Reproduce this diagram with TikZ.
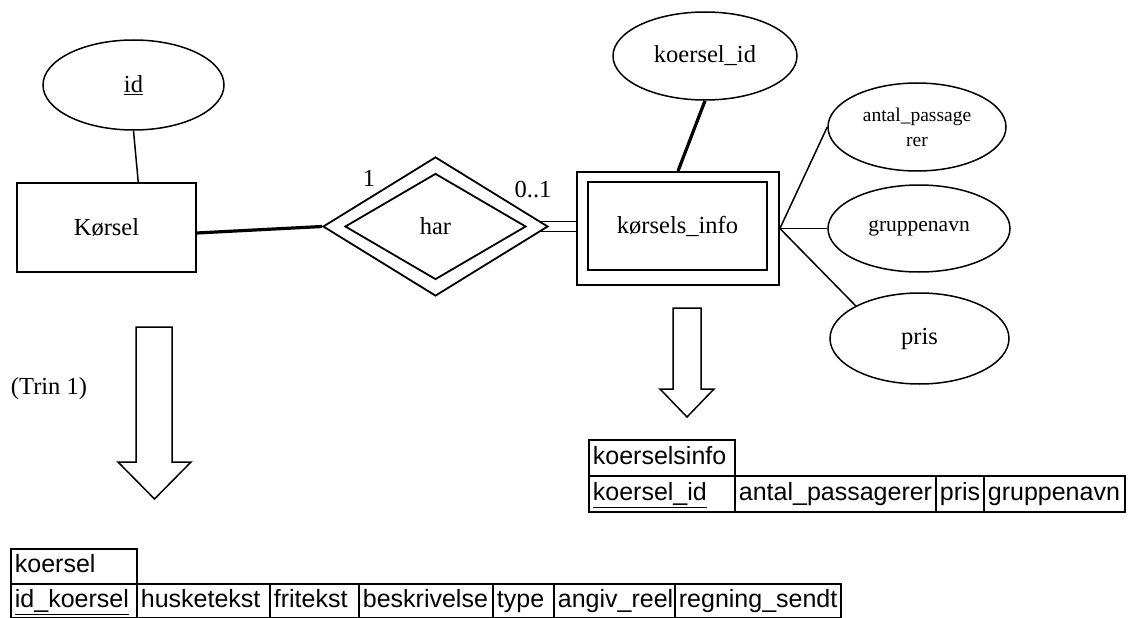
\documentclass[tikz,border=0pt]{standalone}
\usepackage{fontspec}
\setmainfont{Liberation Serif}
\newfontfamily\arialf{Liberation Sans}
\usetikzlibrary{shapes.geometric,calc}
\begin{document}
\begin{tikzpicture}[x=1pt,y=-1pt,line width=1.5pt,
  er/.style={font=\fontsize{24.5}{29}\selectfont},
  attr/.style={ellipse,draw,inner sep=0pt,er},
  ent/.style={rectangle,draw,inner sep=0pt,er},
  rel/.style={diamond,draw,inner sep=0pt,er},
  thickline/.style={line width=3.2pt},
  lbl/.style={inner sep=0pt,er},
  cell/.style={draw,rectangle,anchor=north west,line width=1.8pt,inner xsep=4pt,inner ysep=0pt,
    text height=18pt,text depth=5pt,
    minimum height=35pt,align=left,font=\arialf\fontsize{25}{28}\selectfont},
  blockarrow/.style={draw,line width=1.5pt,fill=white}
]
\useasboundingbox (0,0) rectangle (1128,618);

% --- ER part
\node[attr,minimum width=181pt,minimum height=90pt] (id) at (133.5,85) {\underline{id}};
\node[ent,minimum width=179pt,minimum height=89pt] (korsel) at (106.5,227.5) {Kørsel};
\node[rel,minimum width=225pt,minimum height=139pt,line width=1.8pt] (har) at (435.5,226.5) {};
\node[rel,minimum width=181pt,minimum height=106pt,line width=1.8pt] (harin) at (435.5,226.5) {har};
\node[ent,minimum width=202pt,minimum height=113pt,line width=1.8pt] (info) at (678,228.5) {};
\node[ent,minimum width=179pt,minimum height=88pt,line width=1.8pt] (infoin) at (677.5,226) {kørsels\_info};
\node[attr,minimum width=184pt,minimum height=88pt] (kid) at (705,56) {koersel\_id};
\node[attr,minimum width=178pt,minimum height=88pt,align=center,font=\fontsize{19.5}{25}\selectfont] (antal) at (917,127) {antal\_passage\\rer};
\node[attr,minimum width=182pt,minimum height=87pt,font=\fontsize{21.5}{25}\selectfont] (grp) at (919,228.5) {gruppenavn};
\node[attr,minimum width=179pt,minimum height=91pt] (pris) at (919.5,338.5) {pris};

\node[lbl] (l1) at (369,178) {1};
\node[lbl] (l01) at (533,190) {0..1};
\node[lbl] (trin) at (49,389) {(Trin 1)};

\draw (id.south) -- ([xshift=122pt]korsel.north west);
\draw[thickline] ([yshift=-5.5pt]korsel.east) -- (har.west);
\draw ([xshift=-8.5pt,yshift=5pt]har.east) -- ([yshift=5pt]har.east -| info.west);
\draw ([xshift=-8.5pt,yshift=-5pt]har.east) -- ([yshift=-5pt]har.east -| info.west);
\draw[thickline] (kid.south) -- (info.north);
\draw (info.east) -- (antal.west);
\draw (info.east) -- (grp.west);
\draw (info.east) -- (pris.north west);

% --- block arrows
\draw[blockarrow] (673,308) -- (701,308) -- (701,389) -- (714,389) -- (687,417) -- (660,389) -- (673,389) -- cycle;
\draw[blockarrow] (136,327) -- (172,327) -- (172,462) -- (191,462) -- (154.5,499) -- (118,462) -- (136,462) -- cycle;

% --- table koerselsinfo
\node[cell,text width=138pt,minimum height=36pt] (ih) at (588,439) {koerselsinfo};
\node[cell,text width=138pt,minimum height=36pt] (i1) at (588,475) {\underline{koersel\_id}};
\node[cell,text width=193pt,minimum height=36pt] (i2) at (734,475) {antal\_passagerer};
\node[cell,text width=40pt,minimum height=36pt] (i3) at (935,475) {pris};
\node[cell,text width=133pt,minimum height=36pt] (i4) at (983,475) {gruppenavn};

% --- table koersel
\node[cell,text width=118pt] (kh) at (10,548) {koersel};
\node[cell,text width=118pt,minimum height=34pt] (k1) at (10,583) {\underline{id\_koersel}};
\node[cell,text width=125pt,minimum height=34pt] (k2) at (136,583) {husketekst};
\node[cell,text width=81pt,minimum height=34pt] (k3) at (269,583) {fritekst};
\node[cell,text width=126pt,minimum height=34pt] (k4) at (358,583) {beskrivelse};
\node[cell,text width=53pt,minimum height=34pt] (k5) at (492,583) {type};
\node[cell,text width=113pt,minimum height=34pt] (k6) at (553,583) {angiv\_reel};
\node[cell,text width=158pt,minimum height=34pt] (k7) at (674,583) {regning\_sendt};
\end{tikzpicture}
\end{document}
